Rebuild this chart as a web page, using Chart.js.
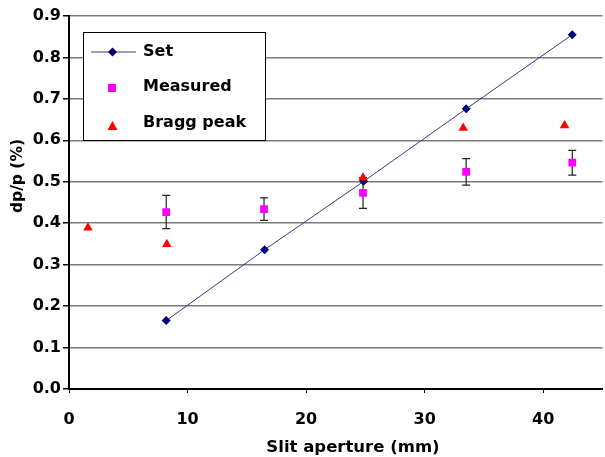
<!DOCTYPE html>
<html>
<head>
<meta charset="utf-8">
<script src="https://cdn.jsdelivr.net/npm/chart.js@4"></script>
<style>
html,body{margin:0;padding:0;background:#fff;overflow:hidden}
canvas{display:block}
</style>
</head>
<body>
<canvas id="chart" width="608" height="457"></canvas>
<script>
// data
const setX = [8.2, 16.5, 24.85, 33.5, 42.45];
const setY = [0.165, 0.336, 0.501, 0.676, 0.855];
const measX = [8.2, 16.45, 24.8, 33.5, 42.45];
const measY = [0.427, 0.434, 0.473, 0.524, 0.546];
const measErr = [0.04, 0.027, 0.037, 0.032, 0.03];
const braggX = [1.6, 8.25, 24.8, 33.25, 41.8];
const braggY = [0.389, 0.349, 0.51, 0.63, 0.636];
const xTicks = [0, 10, 20, 30, 40];
const seriesNames = ["Set", "Measured", "Bragg peak"];
const xTitle = "Slit aperture (mm)";
const yTitle = "dp/p (%)";

const FONT = "DejaVu Sans";
const pts = (xs, ys) => xs.map((x, i) => ({x: x, y: ys[i]}));

// error bars on the measured points
const errorBars = {
  id: "errorBars",
  beforeDatasetsDraw(chart){
    const {ctx, scales:{x, y}} = chart;
    ctx.save();
    ctx.strokeStyle = "#222";
    ctx.lineWidth = 1.2;
    measX.forEach((v, i) => {
      const px = x.getPixelForValue(v);
      const top = y.getPixelForValue(measY[i] + measErr[i]);
      const bot = y.getPixelForValue(measY[i] - measErr[i]);
      ctx.beginPath();
      ctx.moveTo(px, top); ctx.lineTo(px, bot);
      ctx.moveTo(px - 4, top); ctx.lineTo(px + 4, top);
      ctx.moveTo(px - 4, bot); ctx.lineTo(px + 4, bot);
      ctx.stroke();
    });
    ctx.restore();
  }
};

// boxed legend inside the plot + axis titles
const extras = {
  id: "extras",
  afterDraw(chart){
    const ctx = chart.ctx;
    ctx.save();
    // legend box
    ctx.fillStyle = "#fff";
    ctx.fillRect(83, 32, 182, 108);
    ctx.strokeStyle = "#000";
    ctx.lineWidth = 1;
    ctx.strokeRect(83.5, 32.5, 182, 108);

    // Set: line + diamond
    ctx.strokeStyle = "#3a3a8c";
    ctx.beginPath(); ctx.moveTo(91, 52); ctx.lineTo(136, 52); ctx.stroke();
    ctx.fillStyle = "#000080";
    ctx.beginPath();
    ctx.moveTo(112.5, 47.5); ctx.lineTo(117, 52); ctx.lineTo(112.5, 56.5); ctx.lineTo(108, 52);
    ctx.closePath(); ctx.fill();
    // Measured: square
    ctx.fillStyle = "#ff00ff";
    ctx.fillRect(108, 84, 8, 8);
    // Bragg peak: triangle
    ctx.fillStyle = "#ff0000";
    ctx.beginPath();
    ctx.moveTo(112.5, 121); ctx.lineTo(117.5, 130); ctx.lineTo(107.5, 130);
    ctx.closePath(); ctx.fill();

    ctx.fillStyle = "#000";
    ctx.font = "bold 16px '" + FONT + "'";
    ctx.textAlign = "left";
    ctx.textBaseline = "middle";
    ctx.fillText(seriesNames[0], 143, 52);
    ctx.fillText(seriesNames[1], 143, 87);
    ctx.fillText(seriesNames[2], 143, 123);

    // x title
    ctx.font = "bold 16.5px '" + FONT + "'";
    ctx.textAlign = "center";
    ctx.textBaseline = "alphabetic";
    ctx.fillText(xTitle, 353, 452);

    // y title
    ctx.translate(22, 176);
    ctx.rotate(-Math.PI / 2);
    ctx.font = "bold 15.5px '" + FONT + "'";
    ctx.fillText(yTitle, 0, 0);
    ctx.restore();
  }
};

const tickFont = {family: FONT, weight: "bold", size: 16};

new Chart(document.getElementById("chart"), {
  type: "scatter",
  data: {
    datasets: [
      {
        label: seriesNames[0],
        data: pts(setX, setY),
        showLine: true,
        borderColor: "#3a3a8c",
        borderWidth: 1,
        pointStyle: "rectRot",
        pointRadius: 4.5,
        pointBackgroundColor: "#000080",
        pointBorderColor: "#000080",
        pointBorderWidth: 0,
        order: 2
      },
      {
        label: seriesNames[1],
        data: pts(measX, measY),
        pointStyle: "rect",
        pointRadius: 5.5,
        pointBackgroundColor: "#ff00ff",
        pointBorderColor: "#ff00ff",
        pointBorderWidth: 0,
        order: 1
      },
      {
        label: seriesNames[2],
        data: pts(braggX, braggY),
        pointStyle: "triangle",
        pointRadius: 5.5,
        pointBackgroundColor: "#ff0000",
        pointBorderColor: "#ff0000",
        pointBorderWidth: 0,
        order: 0
      }
    ]
  },
  options: {
    responsive: false,
    animation: false,
    layout: {padding: {top: 16, left: 0, right: 0, bottom: 0}},
    plugins: {legend: {display: false}, tooltip: {enabled: false}},
    scales: {
      x: {
        type: "linear",
        min: 0,
        max: 45,
        afterFit: s => { s.height = 68; },
        afterBuildTicks: s => { s.ticks = xTicks.map(v => ({value: v})); },
        grid: {drawOnChartArea: false, drawTicks: true, tickLength: 4, color: "#000", tickColor: "#000"},
        border: {color: "#000", width: 2},
        ticks: {padding: 17, color: "#000", font: tickFont, maxRotation: 0}
      },
      y: {
        min: 0,
        max: 0.9,
        afterFit: s => { s.width = 69; },
        ticks: {stepSize: 0.1, padding: 2, color: "#000", font: tickFont, callback: v => v.toFixed(1)},
        grid: {color: "#7a7a7a", lineWidth: 1.5, tickLength: 6, tickColor: "#000"},
        border: {color: "#000", width: 2}
      }
    }
  },
  plugins: [errorBars, extras]
});
</script>
</body>
</html>
